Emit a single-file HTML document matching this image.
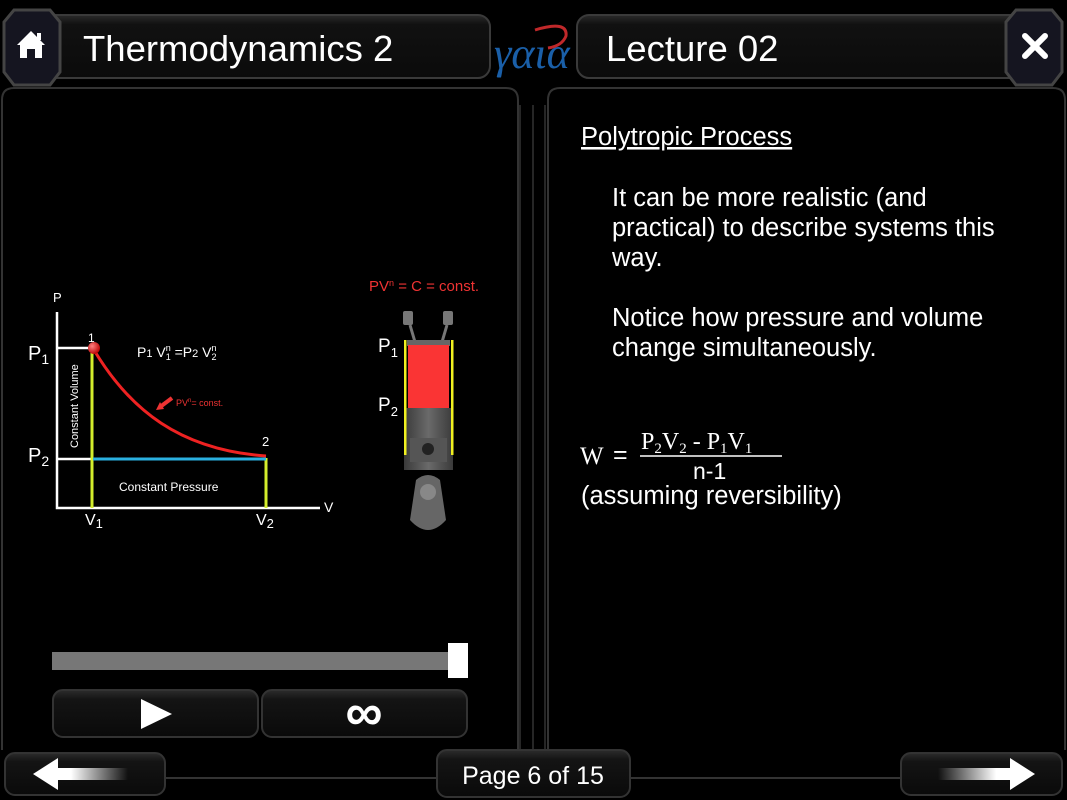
<!DOCTYPE html>
<html><head><meta charset="utf-8"><style>
html,body{margin:0;padding:0;background:#000;width:1067px;height:800px;overflow:hidden}
svg{display:block}
text{font-family:"Liberation Sans",sans-serif}
</style></head><body>
<svg width="1067" height="800" viewBox="0 0 1067 800" xmlns="http://www.w3.org/2000/svg">
<defs>
<linearGradient id="bar" x1="0" y1="0" x2="0" y2="1"><stop offset="0" stop-color="#2a2a2a"/><stop offset="0.15" stop-color="#111"/><stop offset="1" stop-color="#0b0b0b"/></linearGradient>
<linearGradient id="btn" x1="0" y1="0" x2="0" y2="1"><stop offset="0" stop-color="#2c2c2c"/><stop offset="0.2" stop-color="#141414"/><stop offset="1" stop-color="#0a0a0a"/></linearGradient>
<linearGradient id="arrL" x1="0" y1="0" x2="1" y2="0"><stop offset="0.4" stop-color="#fff"/><stop offset="1" stop-color="#fff" stop-opacity="0"/></linearGradient>
<linearGradient id="arrR" x1="1" y1="0" x2="0" y2="0"><stop offset="0.4" stop-color="#fff"/><stop offset="1" stop-color="#fff" stop-opacity="0"/></linearGradient>
<linearGradient id="pist" x1="0" y1="0" x2="1" y2="0"><stop offset="0" stop-color="#3a3a3a"/><stop offset="0.5" stop-color="#6a6a6a"/><stop offset="1" stop-color="#3a3a3a"/></linearGradient>
<radialGradient id="ball" cx="0.35" cy="0.35" r="0.7"><stop offset="0" stop-color="#ff8080"/><stop offset="1" stop-color="#b00"/></radialGradient>
</defs>

<rect x="22" y="15" width="468" height="63" rx="12" fill="url(#bar)" stroke="#3a3a3a" stroke-width="2"/>
<rect x="577" y="15" width="468" height="63" rx="12" fill="url(#bar)" stroke="#3a3a3a" stroke-width="2"/>
<path d="M14 10 L50 10 L60 22 L60 72 L50 85 L14 85 L4 72 L4 22 Z" fill="#151520" stroke="#444" stroke-width="3"/>
<path d="M1016 10 L1052 10 L1062 22 L1062 72 L1052 85 L1016 85 L1006 72 L1006 22 Z" fill="#151520" stroke="#444" stroke-width="3"/>
<path d="M17 45 L31 31 L45 45 L42 45 L42 58 L35 58 L35 49 L27 49 L27 58 L20 58 L20 45 Z" fill="#fff"/>
<rect x="37" y="33" width="4" height="7" fill="#fff"/>
<path d="M1025 36 L1045 56 M1045 36 L1025 56" stroke="#fff" stroke-width="6" stroke-linecap="round"/>
<text x="83" y="61" font-size="36.5" fill="#fff">Thermodynamics 2</text>
<text x="606" y="61" font-size="36.5" fill="#fff">Lecture 02</text>
<text x="494" y="68" font-size="44" font-style="italic" fill="#1a5fa8" style="font-family:'Liberation Serif',serif">γαια</text>
<path d="M535 30 Q568 20 566 36 Q562 46 548 48" fill="none" stroke="#c0282a" stroke-width="3"/>

<path d="M2 750 L2 100 Q2 88 14 88 L506 88 Q518 88 518 100 L518 750" fill="none" stroke="#333" stroke-width="2"/>
<path d="M548 750 L548 100 Q548 88 560 88 L1053 88 Q1065 88 1065 100 L1065 750" fill="none" stroke="#333" stroke-width="2"/>
<line x1="520" y1="105" x2="520" y2="752" stroke="#333" stroke-width="1.5"/>
<line x1="533" y1="105" x2="533" y2="752" stroke="#333" stroke-width="1.5"/>
<line x1="545" y1="105" x2="545" y2="752" stroke="#333" stroke-width="1.5"/>
<line x1="165" y1="778" x2="437" y2="778" stroke="#333" stroke-width="2"/>
<line x1="630" y1="778" x2="900" y2="778" stroke="#333" stroke-width="2"/>

<!-- graph -->
<text x="53" y="302" font-size="13" fill="#fff">P</text>
<polyline points="57,312 57,508 320,508" fill="none" stroke="#fff" stroke-width="2.5"/>
<text x="324" y="512" font-size="14" fill="#fff">V</text>
<line x1="57" y1="348" x2="92" y2="348" stroke="#fff" stroke-width="2.5"/>
<line x1="57" y1="459" x2="92" y2="459" stroke="#fff" stroke-width="2.5"/>
<line x1="92" y1="348" x2="92" y2="508" stroke="#d4ee2c" stroke-width="3"/>
<line x1="266" y1="458" x2="266" y2="508" stroke="#d4ee2c" stroke-width="3"/>
<line x1="93" y1="459" x2="266" y2="459" stroke="#2ab0e0" stroke-width="3"/>
<path d="M94 350 C130 410 180 450 266 456" fill="none" stroke="#ee2222" stroke-width="3"/>
<circle cx="94" cy="348" r="6" fill="url(#ball)"/>
<text x="88" y="342" font-size="12" fill="#fff">1</text>
<text x="262" y="446" font-size="13" fill="#fff">2</text>
<text x="28" y="360" font-size="20" fill="#fff">P<tspan font-size="14" dy="4">1</tspan></text>
<text x="28" y="462" font-size="20" fill="#fff">P<tspan font-size="14" dy="4">2</tspan></text>
<text x="85" y="525" font-size="16" fill="#fff">V<tspan font-size="13" dy="3">1</tspan></text>
<text x="256" y="525" font-size="16" fill="#fff">V<tspan font-size="13" dy="3">2</tspan></text>
<text x="137" y="357" font-size="14" fill="#fff">P<tspan font-size="11">1</tspan> V<tspan font-size="9" dy="-6">n</tspan><tspan font-size="9" dx="-5" dy="9">1</tspan><tspan dy="-3"> =P</tspan><tspan font-size="11">2</tspan> V<tspan font-size="9" dy="-6">n</tspan><tspan font-size="9" dx="-5" dy="9">2</tspan></text>
<text x="78" y="448" font-size="11" fill="#fff" transform="rotate(-90 78 448)">Constant Volume</text>
<text x="119" y="491" font-size="12" fill="#fff">Constant Pressure</text>
<path d="M172 398 L160 407" stroke="#ee3333" stroke-width="4"/>
<path d="M156 410 L160 402 L164 409 Z" fill="#ee3333"/>
<text x="176" y="406" font-size="9" fill="#ee3333">PV<tspan font-size="6" dy="-4">n</tspan><tspan dy="4">= const.</tspan></text>

<!-- piston -->
<text x="369" y="291" font-size="15" fill="#ee3333">PV<tspan font-size="9" dy="-5">n</tspan><tspan dy="5"> = C = const.</tspan></text>
<rect x="403" y="311" width="10" height="14" rx="2" fill="#777"/><rect x="443" y="311" width="10" height="14" rx="2" fill="#777"/>
<line x1="410" y1="325" x2="415" y2="342" stroke="#777" stroke-width="3"/><line x1="447" y1="325" x2="442" y2="342" stroke="#777" stroke-width="3"/>
<rect x="407" y="340" width="43" height="6" fill="#666"/>
<rect x="408" y="345" width="41" height="63" fill="#fa3434"/>
<rect x="404" y="408" width="49" height="62" fill="url(#pist)"/>
<rect x="410" y="438" width="37" height="24" fill="#555"/>
<circle cx="428" cy="449" r="6" fill="#222"/>
<rect x="404" y="340" width="2.5" height="115" fill="#f0f020"/>
<rect x="451" y="340" width="2.5" height="115" fill="#f0f020"/>
<path d="M416 480 Q428 470 440 480 L446 520 Q428 540 410 520 Z" fill="#666"/>
<circle cx="428" cy="492" r="8" fill="#888"/>
<text x="378" y="352" font-size="19" fill="#fff">P<tspan font-size="13" dy="5">1</tspan></text>
<text x="378" y="411" font-size="19" fill="#fff">P<tspan font-size="13" dy="5">2</tspan></text>

<rect x="52" y="652" width="398" height="18" fill="#777"/>
<rect x="448" y="643" width="20" height="35" fill="#fff"/>
<rect x="53" y="690" width="205" height="47" rx="10" fill="url(#btn)" stroke="#333" stroke-width="2"/>
<rect x="262" y="690" width="205" height="47" rx="10" fill="url(#btn)" stroke="#333" stroke-width="2"/>
<path d="M141 699 L172 714 L141 729 Z" fill="#fff"/>
<text x="364" y="730" font-size="52" font-weight="bold" fill="#fff" text-anchor="middle">∞</text>

<rect x="5" y="753" width="160" height="42" rx="10" fill="url(#btn)" stroke="#333" stroke-width="2"/>
<rect x="437" y="750" width="193" height="47" rx="10" fill="url(#btn)" stroke="#333" stroke-width="2"/>
<rect x="901" y="753" width="161" height="42" rx="10" fill="url(#btn)" stroke="#333" stroke-width="2"/>
<path d="M33 774 L58 758 L58 768 L128 768 L128 780 L58 780 L58 790 Z" fill="url(#arrL)"/>
<path d="M1035 774 L1010 758 L1010 768 L938 768 L938 780 L1010 780 L1010 790 Z" fill="url(#arrR)"/>
<text x="533" y="784" font-size="25" fill="#fff" text-anchor="middle">Page 6 of 15</text>

<text x="581" y="145" font-size="25.5" fill="#fff" text-decoration="underline">Polytropic Process</text>
<g font-size="25.5" fill="#fff">
<text x="612" y="206">It can be more realistic (and</text>
<text x="612" y="236">practical) to describe systems this</text>
<text x="612" y="266">way.</text>
<text x="612" y="326">Notice how pressure and volume</text>
<text x="612" y="356">change simultaneously.</text>
</g>
<text x="580" y="464" font-size="25" fill="#fff" style="font-family:'Liberation Serif',serif">W</text>
<text x="613" y="463" font-size="25" fill="#fff">=</text>
<text x="641" y="449" font-size="24" fill="#fff" style="font-family:'Liberation Serif',serif">P<tspan font-size="15" dy="4">2</tspan><tspan dy="-4">V</tspan><tspan font-size="15" dy="4">2</tspan><tspan dy="-4"> - P</tspan><tspan font-size="15" dy="4">1</tspan><tspan dy="-4">V</tspan><tspan font-size="15" dy="4">1</tspan></text>
<line x1="640" y1="456" x2="782" y2="456" stroke="#fff" stroke-width="1.5"/>
<text x="693" y="479" font-size="23" fill="#fff">n-1</text>
<text x="581" y="504" font-size="25.5" fill="#fff">(assuming reversibility)</text>
</svg>
</body></html>
